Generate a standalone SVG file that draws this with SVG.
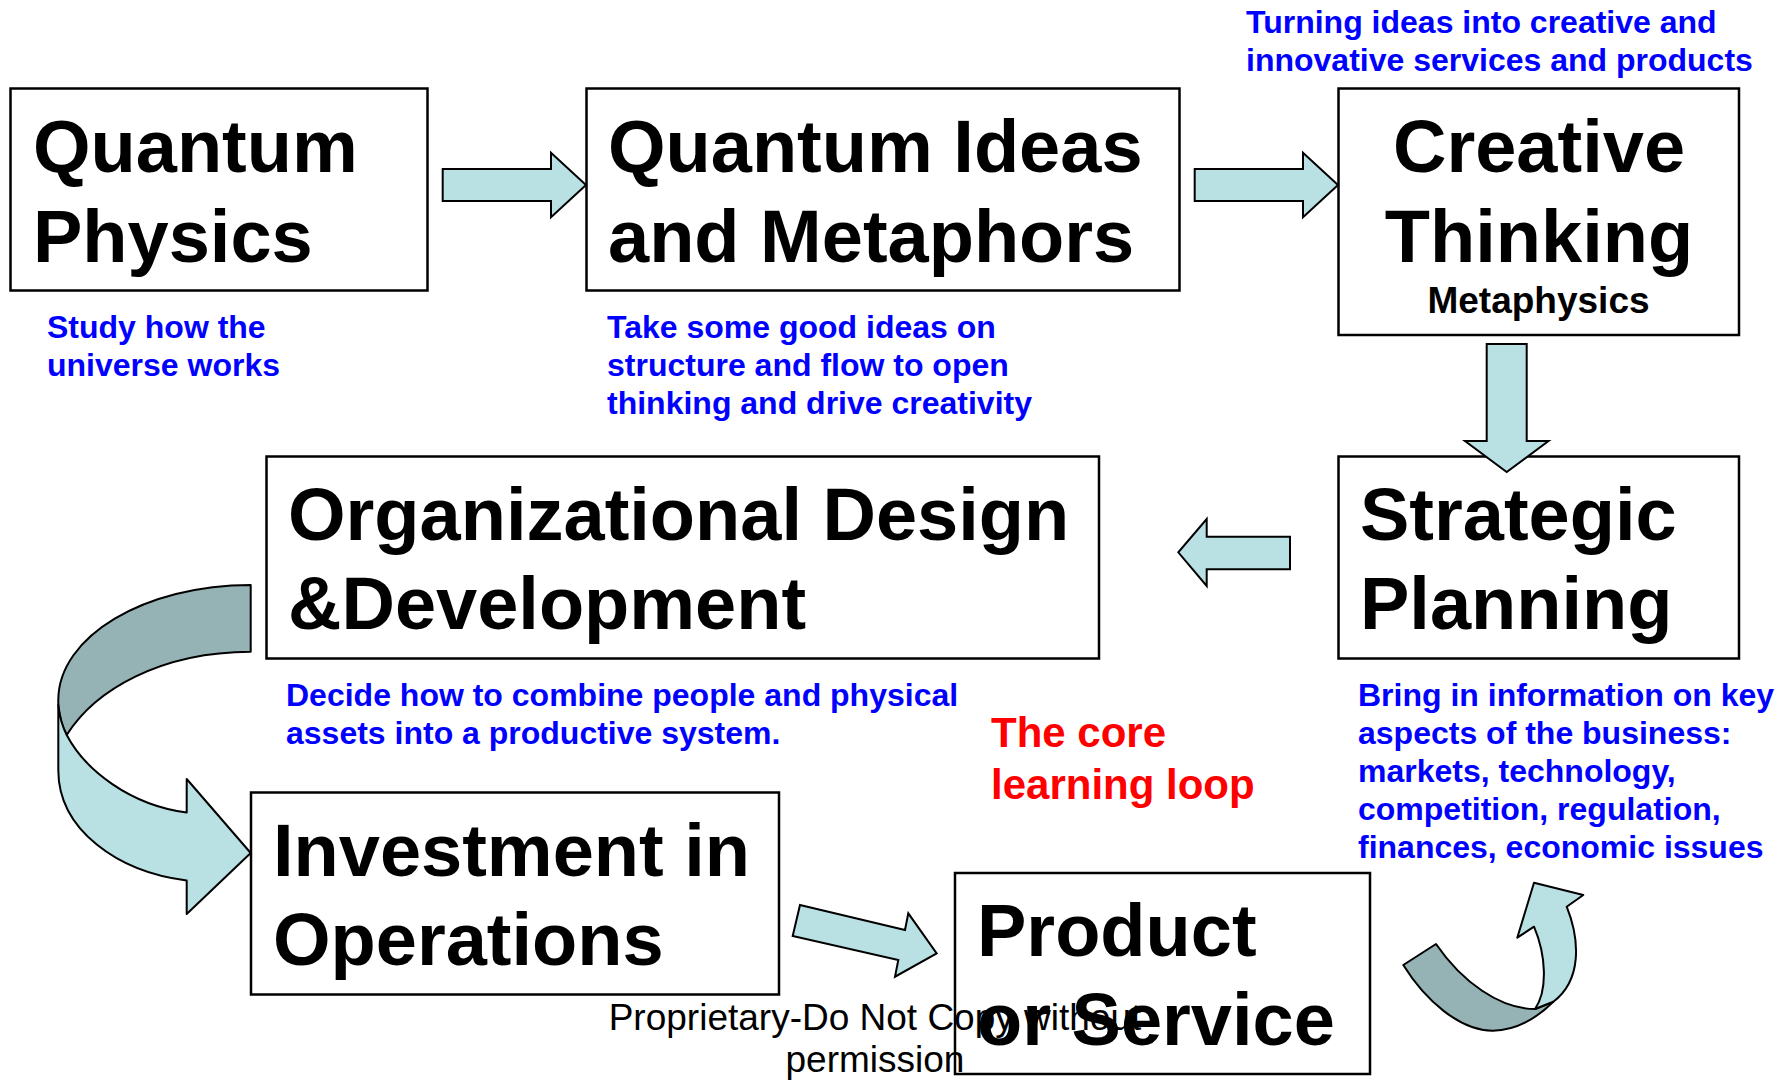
<svg xmlns="http://www.w3.org/2000/svg" width="1791" height="1080" viewBox="0 0 1791 1080">
<style>
.box{fill:#fff;stroke:#000;stroke-width:2.5}
.big{font-family:"Liberation Sans",Arial,sans-serif;font-weight:bold;font-size:74px;fill:#000}
.sub{font-family:"Liberation Sans",Arial,sans-serif;font-weight:bold;font-size:37px;fill:#000}
.note{font-family:"Liberation Sans",Arial,sans-serif;font-weight:bold;font-size:32px;fill:#0000FF}
.red{font-family:"Liberation Sans",Arial,sans-serif;font-weight:bold;font-size:42px;fill:#FF0000}
.wm{font-family:"Liberation Sans",Arial,sans-serif;font-size:37px;fill:#000}
.arr{fill:#B9E0E3;stroke:#000;stroke-width:2;stroke-linejoin:miter}
.dark{fill:#95B3B4;stroke:#000;stroke-width:2;stroke-linejoin:round}
.light{fill:#B9E0E3;stroke:#000;stroke-width:2;stroke-linejoin:round}
</style>
<rect width="1791" height="1080" fill="#fff"/>

<g id="node-quantum-physics">
  <rect class="box" x="10.5" y="88.5" width="417" height="202"/>
  <text class="big" x="33" y="172">Quantum</text>
  <text class="big" x="33" y="262">Physics</text>
</g>
<g id="node-quantum-ideas">
  <rect class="box" x="586.5" y="88.5" width="593" height="202"/>
  <text class="big" x="608" y="172">Quantum Ideas</text>
  <text class="big" x="608" y="262">and Metaphors</text>
</g>
<g id="node-creative-thinking">
  <rect class="box" x="1338.5" y="88.5" width="400.5" height="246.5"/>
  <text class="big" x="1539" y="172" text-anchor="middle">Creative</text>
  <text class="big" x="1539" y="262" text-anchor="middle">Thinking</text>
  <text class="sub" x="1538.5" y="313" text-anchor="middle">Metaphysics</text>
</g>
<g id="node-strategic-planning">
  <rect class="box" x="1338.5" y="456.5" width="400.5" height="202"/>
  <text class="big" x="1360" y="540">Strategic</text>
  <text class="big" x="1360" y="629">Planning</text>
</g>
<g id="node-org-design">
  <rect class="box" x="266.5" y="456.5" width="832.5" height="202"/>
  <text class="big" x="288" y="540">Organizational Design</text>
  <text class="big" x="288" y="629">&amp;Development</text>
</g>
<g id="node-investment">
  <rect class="box" x="251" y="792.5" width="528" height="202"/>
  <text class="big" x="273" y="876">Investment in</text>
  <text class="big" x="273" y="965">Operations</text>
</g>
<g id="node-product">
  <rect class="box" x="955" y="873" width="415" height="201"/>
  <text class="big" x="977" y="956">Product</text>
  <text class="big" x="977" y="1045">or Service</text>
</g>

<g id="connectors">
  <path class="arr" d="M442.7,169 L551,169 L551,152.7 L586,185 L551,217.3 L551,201 L442.7,201 Z"/>
  <path class="arr" d="M1194.7,169 L1303,169 L1303,152.7 L1338,185 L1303,217.3 L1303,201 L1194.7,201 Z"/>
  <path class="arr" d="M1486.7,344 L1526.7,344 L1526.7,441 L1548.5,441 L1506.7,472 L1465,441 L1486.7,441 Z"/>
  <path class="arr" d="M1290,536.7 L1206.7,536.7 L1206.7,519 L1178.3,552.3 L1206.7,586 L1206.7,569.3 L1290,569.3 Z"/>
  <path class="arr" d="M800,905 L905,930 L908.3,913.3 L936.7,953.3 L895,976.7 L898.3,960 L792.7,936 Z"/>
  <g id="curved-left">
    <path class="dark" d="M250.7,585 C144.7,585 58.3,636.5 58.3,700 L58.3,705 Q60,722 66.7,735 C95,690 160,652 250.7,651.7 Z"/>
    <path class="light" d="M58.3,705 L58.3,770 C58.3,830 118,872 186.7,880.5 L186.7,914 L250.7,853 L186.7,779 L186.7,812.5 C130,805 85,770 66.7,735 Q60,722 58.3,705 Z"/>
  </g>
  <g id="curved-right">
    <path class="dark" d="M1436,944 C1462,982 1500,1009 1535,1009 L1553.3,1001.7 C1540,1015 1520,1030 1493,1030.7 C1460,1031 1425,1000 1403.3,965 Z"/>
    <path class="light" d="M1535,1009 C1548,990 1546,955 1534,926.7 L1517.3,937.7 L1534,882.7 L1583.3,895 L1566.7,906.7 C1580,940 1582,980 1553.3,1001.7 Z"/>
  </g>
</g>

<g id="annotations">
  <text class="note" x="1246" y="33">Turning ideas into creative and</text>
  <text class="note" x="1246" y="71">innovative services and products</text>
  <text class="note" x="47" y="338">Study how the</text>
  <text class="note" x="47" y="376">universe works</text>
  <text class="note" x="607" y="338">Take some good ideas on</text>
  <text class="note" x="607" y="376">structure and flow to open</text>
  <text class="note" x="607" y="414">thinking and drive creativity</text>
  <text class="note" x="286" y="706">Decide how to combine people and physical</text>
  <text class="note" x="286" y="744">assets into a productive system.</text>
  <text class="note" x="1358" y="706">Bring in information on key</text>
  <text class="note" x="1358" y="744">aspects of the business:</text>
  <text class="note" x="1358" y="782">markets, technology,</text>
  <text class="note" x="1358" y="820">competition, regulation,</text>
  <text class="note" x="1358" y="858">finances, economic issues</text>
  <text class="red" x="991" y="747">The core</text>
  <text class="red" x="991" y="799">learning loop</text>
</g>

<g id="watermark">
  <text class="wm" x="875" y="1030" text-anchor="middle">Proprietary-Do Not Copy without</text>
  <text class="wm" x="875" y="1072" text-anchor="middle">permission</text>
</g>
</svg>
